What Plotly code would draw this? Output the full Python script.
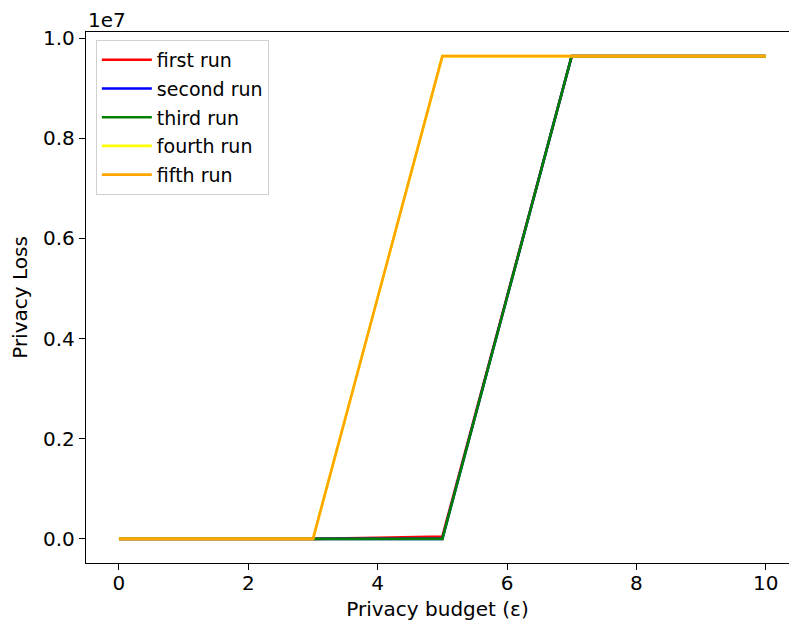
import plotly.graph_objects as go

# Privacy budget values (epsilon) and privacy loss for each run
epsilon = [0, 1, 2, 3, 4, 5, 6, 7, 8, 9, 10]
first_run = [0, 0, 0, 0, 20000, 45000, 4.84e6, 9.64e6, 9.64e6, 9.64e6, 9.64e6]
second_run = [0, 0, 0, 0, 0, 0, 4.82e6, 9.64e6, 9.64e6, 9.64e6, 9.64e6]
third_run = [0, 0, 0, 0, 0, 0, 4.82e6, 9.64e6, 9.64e6, 9.64e6, 9.64e6]
fourth_run = [0, 0, 0, 0, 4.82e6, 9.64e6, 9.64e6, 9.64e6, 9.64e6, 9.64e6, 9.64e6]
fifth_run = [0, 0, 0, 0, 4.82e6, 9.64e6, 9.64e6, 9.64e6, 9.64e6, 9.64e6, 9.64e6]

run_names = ["first run", "second run", "third run", "fourth run", "fifth run"]
run_colors = ["red", "blue", "green", "yellow", "orange"]
run_values = [first_run, second_run, third_run, fourth_run, fifth_run]

y_ticks = [0, 2e6, 4e6, 6e6, 8e6, 1e7]
y_tick_text = ["0.0", "0.2", "0.4", "0.6", "0.8", "1.0"]
x_ticks = [0, 2, 4, 6, 8, 10]

FONT = "DejaVu Sans"
FS = 20

fig = go.Figure()
for name, color, vals in zip(run_names, run_colors, run_values):
    fig.add_trace(go.Scatter(
        x=epsilon, y=vals, mode="lines", name=name, legendgroup=name,
        line=dict(color=color, width=2.6),
    ))

fig.update_layout(
    width=789, height=629,
    margin=dict(l=86, r=0, t=32, b=66),
    paper_bgcolor="white", plot_bgcolor="white",
    font=dict(family=FONT, size=FS, color="black"),
    showlegend=True,
    legend=dict(
        x=0.014, y=0.985, xanchor="left", yanchor="top",
        bgcolor="rgba(255,255,255,0.8)", bordercolor="#d0d0d0", borderwidth=1,
        font=dict(family=FONT, size=19, color="black"),
        tracegroupgap=1, itemwidth=50,
    ),
    xaxis=dict(
        range=[-0.51, 10.36], tickvals=x_ticks,
        showgrid=False, zeroline=False,
        showline=True, linecolor="black", linewidth=1.3, mirror=True,
        ticks="outside", ticklen=6, tickwidth=1.3, tickcolor="black",
        ticklabelstandoff=-4,
        tickfont=dict(family=FONT, size=FS),
        title=dict(text="Privacy budget (ε)", standoff=7,
                   font=dict(family=FONT, size=FS)),
    ),
    yaxis=dict(
        range=[-0.482e6, 10.122e6], tickvals=y_ticks, ticktext=y_tick_text,
        showgrid=False, zeroline=False,
        showline=True, linecolor="black", linewidth=1.3, mirror=False,
        ticks="outside", ticklen=6, tickwidth=1.3, tickcolor="black",
        tickfont=dict(family=FONT, size=FS),
        title=dict(text="Privacy Loss", standoff=10,
                   font=dict(family=FONT, size=FS)),
    ),
    annotations=[dict(
        text="1e7", xref="paper", yref="paper", x=0, y=1,
        xanchor="left", yanchor="bottom", showarrow=False, yshift=-2,
        font=dict(family=FONT, size=FS, color="black"),
    )],
)

fig.write_html("out.html")
